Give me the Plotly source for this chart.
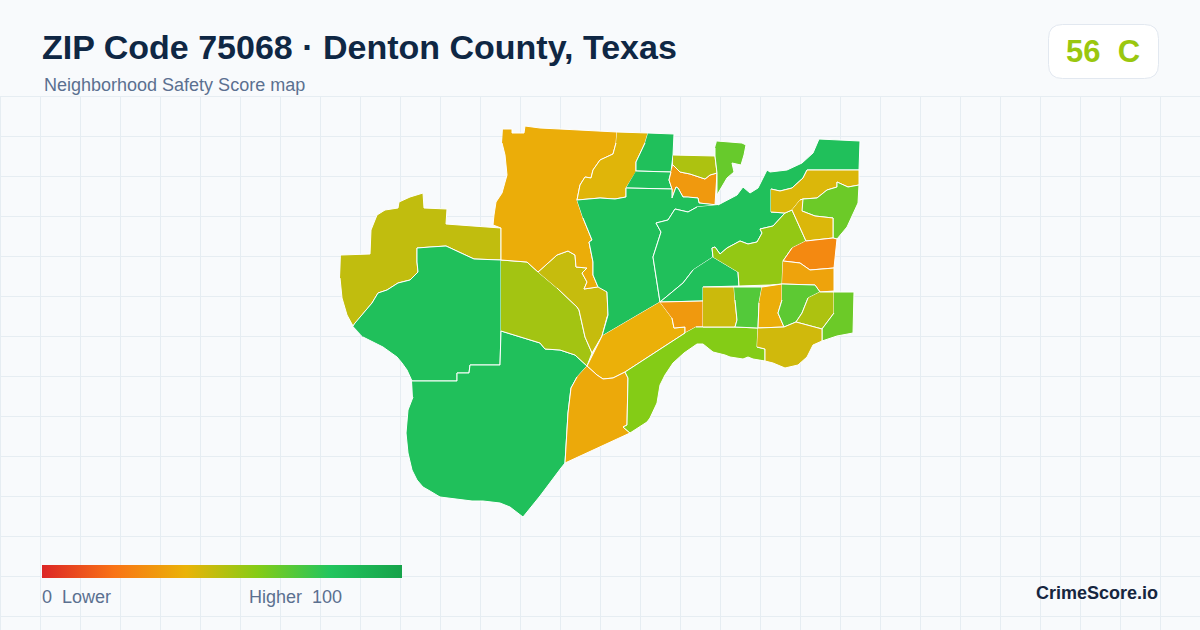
import plotly.graph_objects as go
from plotly.colors import sample_colorscale

west_olive = [(341,255),(370,254),(371,230),(373,225),(377,215),(385,210),(398,208),(399,202),(410,197),(423,193),(424,208),(447,209),(446,224),(473,226),(501,228),(501,260),(474,259),(446,246),(430,247),(417,248),(417,262),(418,272),(410,280),(398,283),(387,290),(378,293),(372,303),(355,323),(353,326),(347,315),(342,298),(340,278)]
west_green = [(353,326),(355,323),(372,303),(378,293),(387,290),(398,283),(410,280),(418,272),(417,262),(417,248),(430,247),(446,246),(474,259),(501,260),(501,331),(500,365),(470,365),(469,373),(457,373),(457,381),(412,381),(407,370),(402,363),(397,357),(390,352),(383,347),(373,342),(363,337)]
south_green = [(412,381),(457,381),(457,373),(469,373),(470,365),(500,365),(501,331),(520,337),(540,343),(545,349),(560,350),(575,355),(587,366),(577,377),(571,388),(568,413),(565,463),(561,468),(540,496),(523,517),(510,507),(500,503),(493,502),(483,501),(472,501),(457,499),(440,497),(430,491),(423,487),(417,480),(412,470),(408,453),(406,433),(408,410),(413,397)]
mid_lime = [(501,260),(527,262),(538,272),(557,288),(577,307),(579,310),(585,337),(592,353),(587,366),(575,355),(560,350),(545,349),(540,343),(520,337),(501,331)]
mid_olive = [(538,272),(547,264),(557,255),(568,251),(575,255),(576,267),(587,268),(582,273),(587,282),(584,289),(597,287),(600,283),(607,292),(608,315),(607,317),(602,336),(592,353),(585,337),(579,310),(577,307),(557,288)]
north_yellow = [(503,129),(512,129),(512,133),(524,133),(525,126),(540,128),(560,129),(600,131),(617,132),(616,143),(613,154),(600,160),(593,170),(591,178),(585,177),(580,185),(577,200),(583,218),(592,240),(589,242),(593,262),(593,275),(598,287),(584,289),(587,282),(582,273),(587,268),(576,267),(575,255),(568,251),(557,255),(547,264),(538,272),(527,262),(501,260),(501,228),(493,225),(494,215),(496,202),(502,193),(507,175),(505,155),(502,143)]
north_gold = [(617,132),(648,133),(645,143),(636,162),(636,172),(626,188),(626,197),(615,199),(600,198),(577,200),(580,185),(585,177),(591,178),(593,170),(600,160),(613,154),(616,143)]
north_green = [(648,133),(674,134),(673,155),(671,172),(636,171),(636,162),(645,143)]
strip_green = [(636,171),(671,172),(669,180),(672,189),(626,188)]
lake_orange = [(673,165),(680,172),(690,174),(705,179),(710,175),(717,173),(715,205),(699,203),(698,198),(688,197),(683,197),(678,188),(676,187),(672,198),(672,189),(669,180),(671,172)]
lake_lime = [(673,155),(715,156),(717,173),(710,175),(705,179),(690,174),(680,172),(673,165)]
lake_green = [(717,141),(727,142),(742,143),(746,145),(744,155),(741,165),(732,163),(734,172),(727,178),(717,195),(717,173),(715,156),(715,148)]
center_green = [(577,200),(600,198),(615,199),(626,197),(626,188),(672,189),(672,198),(676,187),(678,188),(683,197),(688,197),(698,198),(699,203),(715,205),(718,205),(697,207),(688,212),(675,209),(668,220),(656,223),(661,232),(653,257),(660,302),(602,336),(607,317),(608,315),(607,292),(598,287),(593,275),(593,262),(589,242),(592,240),(583,218)]
shore_green = [(718,205),(727,200),(737,195),(743,187),(750,193),(758,188),(763,177),(767,170),(770,172),(787,170),(802,163),(813,153),(819,139),(860,141),(859,170),(807,170),(803,178),(792,188),(780,191),(771,189),(771,212),(785,213),(773,226),(760,229),(762,233),(757,242),(748,244),(740,241),(727,248),(720,254),(715,247),(712,248),(713,257),(693,270),(683,283),(660,302),(653,257),(661,232),(656,223),(668,220),(675,209),(688,212),(697,207)]
inner_green = [(713,257),(738,272),(739,286),(703,287),(703,301),(660,302),(683,283),(693,270)]
east_lime = [(713,257),(712,248),(715,247),(720,254),(727,248),(740,241),(748,244),(757,242),(762,233),(760,229),(773,226),(785,213),(792,210),(806,241),(792,248),(783,261),(782,284),(770,285),(739,286),(738,272)]
east_gold = [(771,189),(780,191),(792,188),(803,178),(807,170),(859,170),(859,185),(848,187),(837,182),(837,187),(827,190),(817,198),(803,199),(800,200),(792,210),(785,213),(771,212)]
coast_lime = [(803,199),(817,198),(827,190),(837,187),(837,182),(848,187),(859,185),(858,203),(847,227),(837,239),(833,238),(833,218),(815,216),(802,211)]
east_yellow = [(800,200),(803,199),(802,211),(815,216),(833,218),(833,238),(806,241),(792,210)]
east_deep = [(806,241),(833,238),(837,239),(834,268),(810,270),(800,263),(783,261),(792,248)]
east_orange = [(783,261),(800,263),(810,270),(834,268),(834,291),(820,292),(815,285),(782,284)]
diag_yellow = [(660,302),(672,318),(674,328),(685,327),(685,333),(625,372),(613,378),(603,379),(597,375),(587,366),(602,336)]
diag_orange = [(660,302),(703,301),(703,327),(696,327),(685,333),(685,327),(674,328),(672,318)]
south_orange = [(587,366),(597,375),(603,379),(613,378),(625,372),(628,378),(627,425),(623,427),(630,433),(565,463),(568,413),(571,388),(577,377)]
south_lime = [(696,327),(718,327),(735,327),(758,328),(757,347),(765,349),(765,361),(753,359),(748,357),(743,359),(730,357),(725,355),(713,352),(703,344),(697,344),(684,353),(673,363),(665,375),(660,385),(657,403),(650,418),(647,422),(630,433),(623,427),(627,425),(628,378),(625,372),(685,333)]
block_olive = [(703,287),(734,287),(735,300),(737,320),(735,327),(718,327),(703,327)]
block_green = [(734,287),(762,287),(759,303),(758,328),(735,327),(737,320),(735,300)]
block_orange = [(762,287),(782,284),(782,300),(778,313),(784,327),(758,328),(759,303)]
bend_green = [(782,284),(815,285),(820,292),(808,298),(802,313),(796,322),(784,327),(778,313),(782,300)]
bend_olive = [(820,292),(834,292),(834,313),(822,329),(796,322),(802,313),(808,298)]
edge_lime = [(834,292),(854,292),(853,333),(837,336),(822,341),(822,329),(834,313)]
shore_gold = [(758,328),(784,327),(796,322),(822,329),(822,341),(813,345),(807,357),(798,365),(785,368),(773,363),(765,361),(765,349),(757,347)]

tract_outlines = [
    west_olive, west_green, south_green, mid_lime, mid_olive, north_yellow, north_gold, north_green,
    strip_green, lake_orange, lake_lime, lake_green, center_green, shore_green, inner_green, east_lime,
    east_gold, coast_lime, east_yellow, east_deep, east_orange, diag_yellow, diag_orange, south_orange,
    south_lime, block_olive, block_green, block_orange, bend_green, bend_olive, edge_lime, shore_gold,
]
tract_scores = [
    48, 83, 83, 54, 47, 38, 42, 83,
    83, 32, 52, 66, 83, 83, 83, 57,
    43, 65, 43, 27, 35, 39, 32, 37,
    60, 46, 70, 38, 68, 52, 65, 45,
]

score_stops = [0, 20, 40, 60, 80, 100]
score_colors = ["#dc2626", "#f97316", "#eab308", "#84cc16", "#22c55e", "#16a34a"]
colorscale = [[s / 100, c] for s, c in zip(score_stops, score_colors)]

grid_color = "#e6edf2"

fig = go.Figure()

for outline, score in zip(tract_outlines, tract_scores):
    xs = [p[0] for p in outline]
    ys = [p[1] for p in outline]
    fig.add_trace(
        go.Scatter(
            x=xs,
            y=ys,
            mode="lines",
            fill="toself",
            fillcolor=sample_colorscale(colorscale, score / 100)[0],
            line={"color": "#ffffff", "width": 1},
            hoverinfo="text",
            text=f"Score {score}",
            showlegend=False,
        )
    )

# only here for the legend bar
fig.add_trace(
    go.Scatter(
        x=[None, None],
        y=[None, None],
        mode="markers",
        marker={
            "color": [0, 100],
            "cmin": 0,
            "cmax": 100,
            "colorscale": colorscale,
            "showscale": True,
            "colorbar": {
                "orientation": "h",
                "thickness": 13,
                "thicknessmode": "pixels",
                "len": 360,
                "lenmode": "pixels",
                "x": 42 / 1200,
                "xanchor": "left",
                "y": 1 - 565 / 630,
                "yanchor": "top",
                "xpad": 0,
                "ypad": 0,
                "outlinewidth": 0,
                "borderwidth": 0,
                "ticks": "",
                "showticklabels": False,
            },
        },
        showlegend=False,
        hoverinfo="skip",
    )
)


def add_text(text, x, y, size, color, bold=False, anchor="left"):
    fig.add_annotation(
        text=f"<b>{text}</b>" if bold else text,
        x=x / 1200,
        y=1 - y / 630,
        xref="paper",
        yref="paper",
        xanchor=anchor,
        yanchor="middle",
        showarrow=False,
        align=anchor,
        borderpad=0,
        font={"family": "Liberation Sans", "size": size, "color": color},
    )


add_text("ZIP Code 75068 · Denton County, Texas", 40.5, 47, 34, "#0f2744", bold=True)
add_text("Neighborhood Safety Score map", 43, 85, 18, "#5b7090")
add_text("56\u00a0\u00a0C", 1103, 51, 31, "#9ac70f", bold=True, anchor="center")
add_text("0\u00a0\u00a0Lower", 41, 597, 18, "#5b7090")
add_text("Higher\u00a0\u00a0100", 343, 597, 18, "#5b7090", anchor="right")
add_text("CrimeScore.io", 1159, 593, 18, "#16263f", bold=True, anchor="right")


def px(x):
    return x / 1200


def py(y):
    return 1 - y / 630


# score badge with rounded corners
badge_left, badge_right, badge_top, badge_bottom, badge_r = 1048.5, 1158.5, 24.5, 78.5, 14
badge_path = (
    f"M {px(badge_left + badge_r)} {py(badge_top)} L {px(badge_right - badge_r)} {py(badge_top)} "
    f"Q {px(badge_right)} {py(badge_top)} {px(badge_right)} {py(badge_top + badge_r)} "
    f"L {px(badge_right)} {py(badge_bottom - badge_r)} "
    f"Q {px(badge_right)} {py(badge_bottom)} {px(badge_right - badge_r)} {py(badge_bottom)} "
    f"L {px(badge_left + badge_r)} {py(badge_bottom)} "
    f"Q {px(badge_left)} {py(badge_bottom)} {px(badge_left)} {py(badge_bottom - badge_r)} "
    f"L {px(badge_left)} {py(badge_top + badge_r)} "
    f"Q {px(badge_left)} {py(badge_top)} {px(badge_left + badge_r)} {py(badge_top)} Z"
)
fig.add_shape(
    type="path",
    path=badge_path,
    xref="paper",
    yref="paper",
    fillcolor="#ffffff",
    line={"color": "#e2e8f0", "width": 1},
    layer="below",
)

# plotly drops grid lines sitting right on the plot edge, so draw those two by hand
fig.add_shape(type="line", xref="paper", yref="paper", x0=0, x1=1, y0=py(96.5), y1=py(96.5),
              line={"color": grid_color, "width": 1}, layer="below")
fig.add_shape(type="line", xref="paper", yref="paper", x0=px(0.5), x1=px(0.5), y0=0, y1=py(96.5),
              line={"color": grid_color, "width": 1}, layer="below")

fig.update_xaxes(
    range=[0, 1200],
    tick0=0.5,
    dtick=40,
    showgrid=True,
    gridcolor=grid_color,
    gridwidth=1,
    zeroline=False,
    showticklabels=False,
    ticks="",
    fixedrange=True,
)
fig.update_yaxes(
    range=[630, 96],
    domain=[0, 534 / 630],
    tick0=96.5,
    dtick=40,
    showgrid=True,
    gridcolor=grid_color,
    gridwidth=1,
    zeroline=False,
    showticklabels=False,
    ticks="",
    fixedrange=True,
)
fig.update_layout(
    width=1200,
    height=630,
    margin={"l": 0, "r": 0, "t": 0, "b": 0},
    paper_bgcolor="#f8fafc",
    plot_bgcolor="#f8fafc",
    showlegend=False,
)

fig.write_html("out.html", config={"displayModeBar": False}, post_script="document.body.style.margin = '0';")
